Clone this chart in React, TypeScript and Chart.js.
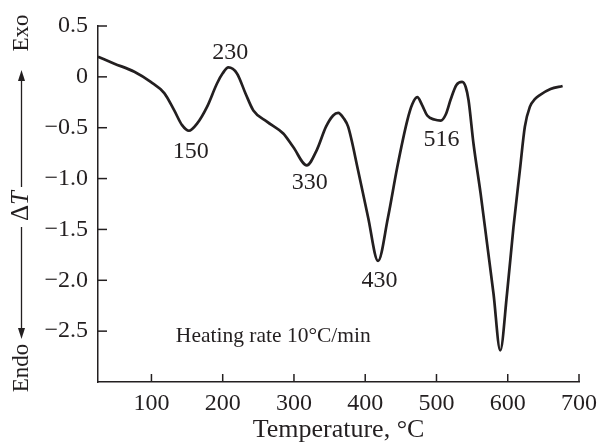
import React, { useEffect, useRef } from 'react';
import { Chart, registerables } from 'chart.js';

Chart.register(...registerables);

const FONT = "'Liberation Serif', 'Times New Roman', serif";
const INK = '#231f20';

// DTA curve: temperature (°C) and ΔT
const temperature = [
  25, 48, 76, 99, 118, 132, 143, 152.6, 164, 178, 192, 200, 208, 220, 232, 243,
  262, 285, 299, 318, 332, 345, 355, 362, 370, 376, 390, 404, 418, 432, 445, 459,
  466, 473, 480, 487, 497, 506, 513, 520, 528, 536, 541, 545, 552, 562, 571, 580,
  589.5, 599, 608, 617, 624, 631, 638, 645, 660, 677,
];
const deltaT = [
  0.198, 0.13, 0.05, -0.05, -0.16, -0.33, -0.475, -0.53, -0.46, -0.295, -0.065, 0.035, 0.093, 0.034, -0.163, -0.33,
  -0.44, -0.557, -0.69, -0.87, -0.72, -0.49, -0.38, -0.355, -0.41, -0.49, -0.92, -1.38, -1.81, -1.38, -0.886, -0.43,
  -0.27, -0.2, -0.28, -0.38, -0.42, -0.43, -0.37, -0.22, -0.08, -0.05, -0.1, -0.23, -0.66, -1.15, -1.64, -2.13,
  -2.69, -2.13, -1.48, -0.92, -0.49, -0.295, -0.22, -0.18, -0.12, -0.09,
];

const xTickValues = [100, 200, 300, 400, 500, 600, 700];
const xTickLabels = ['100', '200', '300', '400', '500', '600', '700'];
const yTickValues = [0.5, 0, -0.5, -1, -1.5, -2, -2.5];
const yTickLabels = ['0.5', '0', '\u22120.5', '\u22121.0', '\u22121.5', '\u22122.0', '\u22122.5'];

const peakLabels = ['150', '230', '330', '430', '516'];
const peakLabelX = [155, 210.7, 322, 420, 507];
const peakLabelY = [-0.74, 0.24, -1.04, -2.0, -0.62];

const noteText = 'Heating rate 10\u00b0C/min';
const noteX = 271;
const noteY = -2.554;

const xTitle = 'Temperature, \u00b0C';
const yTitleTop = 'Exo';
const yTitleBottom = 'Endo';
const yTitleMain = '\u0394';
const yTitleItalic = 'T';

const overlay = {
  id: 'overlay',
  afterDraw(chart: any) {
    const ctx = chart.ctx;
    const xs = chart.scales.x;
    const ys = chart.scales.y;
    const a = chart.chartArea;
    ctx.save();
    ctx.strokeStyle = INK;
    ctx.fillStyle = INK;
    ctx.lineWidth = 1.5;
    // inward ticks
    yTickValues.forEach((v) => {
      const py = ys.getPixelForValue(v);
      ctx.beginPath();
      ctx.moveTo(a.left, py);
      ctx.lineTo(a.left + 9, py);
      ctx.stroke();
    });
    xTickValues.forEach((v) => {
      const px = xs.getPixelForValue(v);
      ctx.beginPath();
      ctx.moveTo(px, a.bottom);
      ctx.lineTo(px, a.bottom - 8);
      ctx.stroke();
    });
    // peak labels
    ctx.textAlign = 'center';
    ctx.textBaseline = 'middle';
    ctx.font = `24px ${FONT}`;
    peakLabels.forEach((t, i) => {
      ctx.fillText(t, xs.getPixelForValue(peakLabelX[i]), ys.getPixelForValue(peakLabelY[i]));
    });
    ctx.font = `21.5px ${FONT}`;
    ctx.fillText(noteText, xs.getPixelForValue(noteX), ys.getPixelForValue(noteY));

    // y title: Endo <---- ΔT ----> Exo
    const cx = 21.5;
    ctx.save();
    ctx.translate(cx, 0);
    ctx.rotate(-Math.PI / 2);
    ctx.font = `23px ${FONT}`;
    ctx.textBaseline = 'middle';
    ctx.textAlign = 'center';
    ctx.fillText(yTitleTop, -33, 0);
    ctx.fillText(yTitleBottom, -368, 0);
    ctx.font = `25px ${FONT}`;
    const wD = ctx.measureText(yTitleMain).width;
    ctx.font = `italic 25px ${FONT}`;
    const wT = ctx.measureText(yTitleItalic).width;
    const start = -206 - (wD + wT) / 2;
    ctx.textAlign = 'left';
    ctx.font = `25px ${FONT}`;
    ctx.fillText(yTitleMain, start, 0);
    ctx.font = `italic 25px ${FONT}`;
    ctx.fillText(yTitleItalic, start + wD, 0);
    ctx.restore();

    ctx.lineWidth = 1.3;
    ctx.beginPath();
    ctx.moveTo(cx, 78);
    ctx.lineTo(cx, 187);
    ctx.moveTo(cx, 227);
    ctx.lineTo(cx, 331);
    ctx.stroke();
    // arrowheads
    ctx.beginPath();
    ctx.moveTo(cx, 70);
    ctx.lineTo(cx - 3.5, 81);
    ctx.lineTo(cx + 3.5, 81);
    ctx.closePath();
    ctx.fill();
    ctx.beginPath();
    ctx.moveTo(cx, 339);
    ctx.lineTo(cx - 3.5, 328);
    ctx.lineTo(cx + 3.5, 328);
    ctx.closePath();
    ctx.fill();
    ctx.restore();
  },
};

export default function App() {
  const ref = useRef<HTMLCanvasElement | null>(null);
  useEffect(() => {
    document.body.style.margin = '0';
    const canvas = ref.current;
    if (!canvas) return;
    const chart = new Chart(canvas, {
      type: 'line',
      data: {
        datasets: [
          {
            data: temperature.map((t, i) => ({ x: t, y: deltaT[i] })),
            borderColor: INK,
            borderWidth: 2.7,
            pointRadius: 0,
            fill: false,
            cubicInterpolationMode: 'monotone',
          },
        ],
      },
      options: {
        responsive: false,
        animation: false,
        devicePixelRatio: 1,
        layout: { padding: { top: 26, right: 21, left: 0, bottom: 0 } },
        plugins: { legend: { display: false }, tooltip: { enabled: false } },
        scales: {
          x: {
            type: 'linear',
            min: 25,
            max: 700,
            afterBuildTicks: (s: any) => {
              s.ticks = xTickValues.map((v) => ({ value: v }));
            },
            afterFit: (s: any) => {
              s.height = 66;
            },
            grid: { display: false, drawTicks: false },
            border: { display: true, color: INK, width: 1.5 },
            ticks: {
              color: INK,
              font: { family: FONT, size: 24 },
              padding: 7,
              maxRotation: 0,
              autoSkip: false,
              callback: (v: any) => {
                const i = xTickValues.indexOf(Number(v));
                return i >= 0 ? xTickLabels[i] : '';
              },
            },
            title: {
              display: true,
              text: xTitle,
              color: INK,
              font: { family: FONT, size: 26 },
              padding: { top: 0, bottom: 2 },
            },
          },
          y: {
            type: 'linear',
            min: -3,
            max: 0.5,
            afterBuildTicks: (s: any) => {
              s.ticks = yTickValues.map((v) => ({ value: v }));
            },
            afterFit: (s: any) => {
              s.width = 98;
            },
            grid: { display: false, drawTicks: false },
            border: { display: true, color: INK, width: 1.5 },
            ticks: {
              color: INK,
              font: { family: FONT, size: 24 },
              padding: 10,
              autoSkip: false,
              callback: (v: any) => {
                const i = yTickValues.indexOf(Number(v));
                return i >= 0 ? yTickLabels[i] : '';
              },
            },
          },
        },
      },
      plugins: [overlay],
    } as any);
    return () => chart.destroy();
  }, []);
  return (
    <div style={{ position: 'fixed', left: 0, top: 0, width: 604, height: 448, background: '#fff' }}>
      <canvas ref={ref} width={604} height={448} style={{ display: 'block' }} />
    </div>
  );
}
